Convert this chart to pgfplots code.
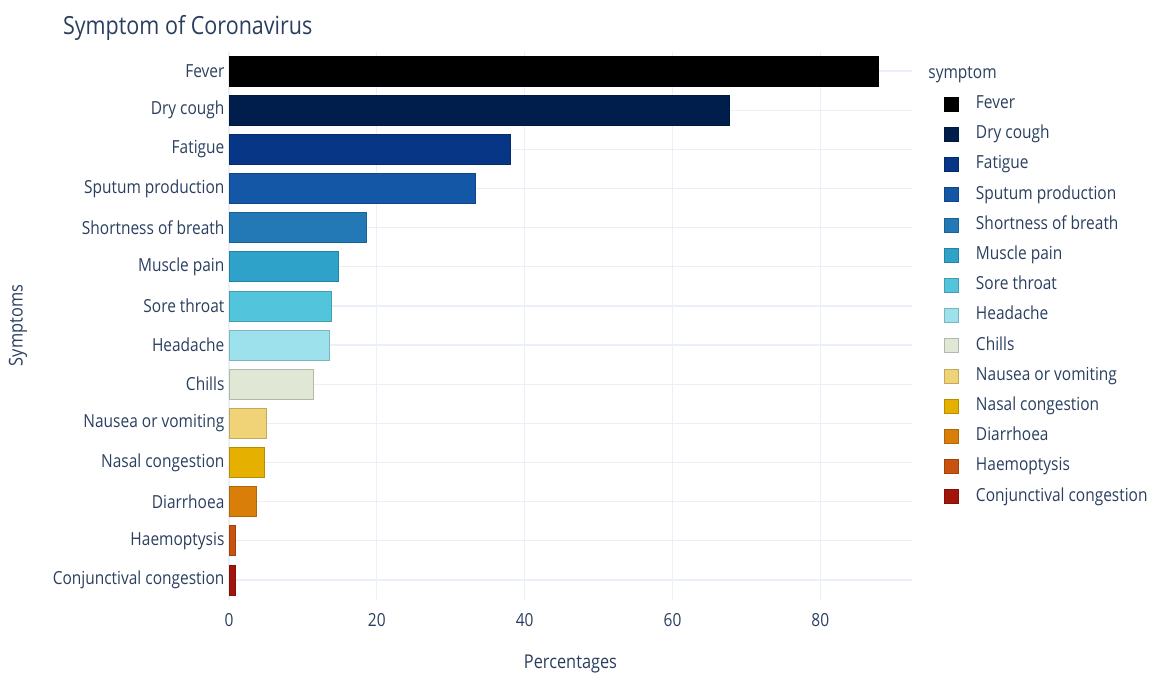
\documentclass[border=0pt]{standalone}
\usepackage{fontspec}
\setmainfont[FakeStretch=0.86]{Open Sans}
\usepackage{pgfplots}
\pgfplotsset{compat=1.18}
\definecolor{txt}{HTML}{2A3F5F}
\definecolor{gridc}{HTML}{EBF0F8}
\definecolor{c1}{HTML}{000000}
\definecolor{c2}{HTML}{001E4B}
\definecolor{c3}{HTML}{063685}
\definecolor{c4}{HTML}{1457A6}
\definecolor{c5}{HTML}{2279B6}
\definecolor{c6}{HTML}{2EA2C8}
\definecolor{c7}{HTML}{52C5DD}
\definecolor{c8}{HTML}{9DE1EC}
\definecolor{c9}{HTML}{E0E7D4}
\definecolor{c10}{HTML}{F1D377}
\definecolor{c11}{HTML}{E6B000}
\definecolor{c12}{HTML}{D97F09}
\definecolor{c13}{HTML}{C8530E}
\definecolor{c14}{HTML}{A3150B}
\begin{document}
\begin{tikzpicture}
\useasboundingbox (-114.5pt,25.75pt) rectangle (463.5pt,-311.25pt);
\begin{axis}[
  name=ax,
  at={(0,0)}, anchor=north west,
  scale only axis,
  width=341.5pt, height=274pt,
  xbar, bar width=15pt, bar shift=0pt,
  xmin=0, xmax=92.4,
  ymin=-0.5, ymax=13.5,
  y dir=reverse,
  xtick={0,20,40,60,80},
  ytick={0,...,13},
  yticklabels={Fever,Dry cough,Fatigue,Sputum production,Shortness of breath,Muscle pain,Sore throat,Headache,Chills,Nausea or vomiting,Nasal congestion,Diarrhoea,Haemoptysis,Conjunctival congestion},
  /pgf/number format/assume math mode=true,
  font=\fontsize{9}{11}\selectfont,
  ticklabel style={text=txt, font=\fontsize{9}{11}\selectfont},
  xticklabel style={yshift=-3.5pt},
  yticklabel style={xshift=5.5pt},
  axis line style={draw=none},
  tick style={draw=none},
  xmajorgrids, ymajorgrids,
  grid style={gridc, line width=0.6pt},
  title={Symptom of Coronavirus},
  title style={at={(axis description cs:0,1)}, anchor=west, xshift=-86.5pt, yshift=5.75pt, text=txt, font=\fontsize{12.5}{15}\selectfont},
  xlabel={Percentages},
  xlabel style={at={(axis description cs:0.5,0)}, anchor=center, yshift=-32.2pt, text=txt, font=\fontsize{9.5}{11}\selectfont},
  legend cell align=left,
  legend image code/.code={\draw[#1, line width=0.3pt] (0pt,-3.5pt) rectangle (7pt,3.5pt);},
  legend style={at={(1,1)}, anchor=north west, xshift=16pt, yshift=-21.8pt,
    draw=none, fill=none, inner sep=0pt, row sep=6.6pt, column sep=0pt,
    text=txt, font=\fontsize{9}{11}\selectfont,
    nodes={inner sep=0pt, text height=6.5pt, text depth=2pt},
    /tikz/every odd column/.append style={column sep=8.5pt}},
]
\addplot[fill=c1, draw=c1!80!black] coordinates {(87.9,0)};
\addlegendentry{Fever}
\addplot[fill=c2, draw=c2!80!black] coordinates {(67.7,1)};
\addlegendentry{Dry cough}
\addplot[fill=c3, draw=c3!80!black] coordinates {(38.1,2)};
\addlegendentry{Fatigue}
\addplot[fill=c4, draw=c4!80!black] coordinates {(33.4,3)};
\addlegendentry{Sputum production}
\addplot[fill=c5, draw=c5!80!black] coordinates {(18.6,4)};
\addlegendentry{Shortness of breath}
\addplot[fill=c6, draw=c6!80!black] coordinates {(14.8,5)};
\addlegendentry{Muscle pain}
\addplot[fill=c7, draw=c7!80!black] coordinates {(13.9,6)};
\addlegendentry{Sore throat}
\addplot[fill=c8, draw=c8!80!black] coordinates {(13.6,7)};
\addlegendentry{Headache}
\addplot[fill=c9, draw=c9!80!black] coordinates {(11.4,8)};
\addlegendentry{Chills}
\addplot[fill=c10, draw=c10!80!black] coordinates {(5.0,9)};
\addlegendentry{Nausea or vomiting}
\addplot[fill=c11, draw=c11!80!black] coordinates {(4.8,10)};
\addlegendentry{Nasal congestion}
\addplot[fill=c12, draw=c12!80!black] coordinates {(3.7,11)};
\addlegendentry{Diarrhoea}
\addplot[fill=c13, draw=c13!80!black] coordinates {(0.9,12)};
\addlegendentry{Haemoptysis}
\addplot[fill=c14, draw=c14!80!black] coordinates {(0.8,13)};
\addlegendentry{Conjunctival congestion}
\end{axis}
\node[anchor=west, text=txt, font=\fontsize{9}{11}\selectfont, inner sep=0pt] at ([xshift=8pt, yshift=-11.5pt]ax.north east) {symptom};
\node[rotate=90, anchor=center, text=txt, font=\fontsize{9.5}{11}\selectfont, inner sep=0pt] at ([xshift=-105.5pt]ax.west) {Symptoms};
\end{tikzpicture}
\end{document}
